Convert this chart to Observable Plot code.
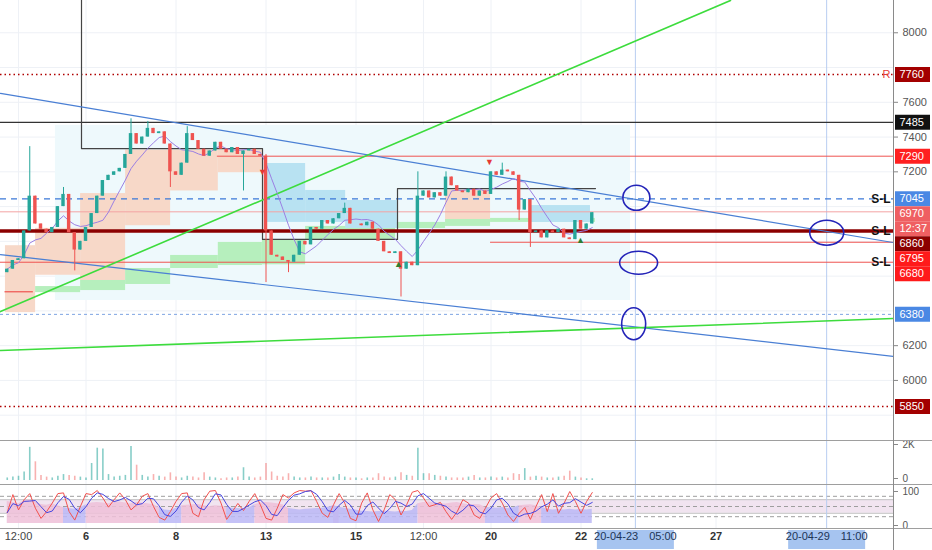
<!DOCTYPE html>
<html><head><meta charset="utf-8">
<script src="https://cdn.jsdelivr.net/npm/d3@7"></script>
<script src="https://cdn.jsdelivr.net/npm/@observablehq/plot@0.6"></script>
<style>
html,body{margin:0;padding:0;background:#fff;}
#chart{position:relative;width:932px;height:550px;overflow:hidden;font-family:"Liberation Sans",Arial,sans-serif;}
#chart svg{display:block;}
.sep{position:absolute;left:0;width:932px;height:1px;background:#9e9e9e;}
.vax{position:absolute;left:893px;top:0;width:1px;height:550px;background:#8a8a8a;}
</style></head><body><div id="chart"></div>
<script>
// ---------- DATA ----------
// time unit: trading days since 2020-04-02 00:00 (weekends / Good Friday removed)
const candleStartT = 0.25, candleStepT = 0.125;   // 3h candles
const firstOpen = 6620;
const closes = [
 6640,6690,6700,6860,7060,6900,6870,6850,6880,7000,
 7070,6850,6750,6800,6880,6960,7060,7150,7180,7200,
 7220,7300,7420,7360,7400,7450,7420,7430,7360,7200,
 7180,7250,7420,7380,7330,7290,7320,7370,7330,7310,
 7340,7300,7320,7330,7300,7290,6860,6720,6710,6690,
 6680,6720,6800,6780,6880,6870,6920,6900,6930,6960,
 6990,6900,6900,6890,6910,6870,6800,6740,6730,6740,
 6640,6680,6660,7060,7090,7050,7080,7060,7170,7120,
 7090,7080,7100,7060,7090,7070,7200,7180,7210,7200,
 7180,6980,7040,6850,6860,6820,6860,6850,6870,6820,
 6810,6920,6870,6900,6965];
const highWicks = [[4,7345],[10,7110],[22,7505],[25,7490],[32,7460],[46,7300],[60,7020],[73,7200],[78,7200],[88,7250]];
const lowWicks  = [[12,6630],[29,7110],[42,7090],[46,6563],[50,6620],[70,6480],[91,6920],[93,6765]];
const volumes = [
 150,200,250,500,1950,1100,300,200,150,250,
 350,300,250,200,150,1000,1900,1850,350,200,
 250,300,2000,900,300,200,350,250,200,450,
 200,150,250,200,150,450,200,150,100,150,
 150,200,750,200,150,200,1000,500,250,200,
 400,200,150,150,200,150,150,150,200,350,
 200,150,150,100,150,150,400,200,150,200,
 450,300,250,1900,400,400,300,250,200,150,
 150,150,200,300,150,150,200,150,200,150,
 400,350,700,200,250,200,150,150,200,250,
 550,200,150,100,100];
const stochK = [
 32,85,40,70,88,45,15,35,60,88,
 90,35,10,50,88,85,97,75,48,70,
 90,70,40,55,80,88,50,18,10,35,
 65,88,90,30,20,70,95,97,60,12,
 35,59,38,65,88,55,15,10,45,85,
 75,90,97,95,97,65,30,18,55,88,
 60,15,8,60,90,40,6,40,85,70,
 25,55,92,97,75,50,55,62,35,12,
 35,70,60,25,15,45,75,88,60,25,
 6,30,47,12,50,85,35,88,30,60,
 94,65,30,65,91];
const rsiArea = [
 65,62,58,66,70,64,56,54,58,52,
 47,44,42,46,55,60,62,60,58,62,
 63,60,58,62,60,58,55,48,40,38,
 45,52,54,55,56,52,50,52,51,48,
 45,44,42,46,55,60,62,60,58,55,
 44,42,40,42,43,44,45,48,52,48,
 45,42,40,36,35,34,35,36,35,34,
 36,35,38,58,62,63,60,58,57,60,
 62,58,55,56,55,48,46,45,47,44,
 46,52,54,55,52,48,42,40,41,40,
 42,40,41,40,42];

// zones [t1, t2, price1, price2]
const paleZone   = [[1.32,14.1,6460,7467]];
const peachZones = [[0.21,0.88,6390,6775],[0.88,1.88,6605,6875],[1.88,2.88,6575,7075],[2.88,3.88,6890,7325],[3.88,4.94,7090,7325],[4.94,5.92,7195,7325],[9.99,10.99,6910,7095]];
const greenZones = [[0.88,1.88,6505,6540],[1.88,2.88,6517,6575],[2.88,3.88,6552,6644],[3.88,4.94,6644,6719],[4.94,5.92,6661,6794],[5.92,6.88,6665,6805],[6.88,8.88,6805,6886],[8.88,9.99,6874,6909],[9.99,10.99,6886,6926],[10.99,13.32,6909,6932]];
const blueZones  = [[5.99,6.88,6909,7248],[6.88,7.77,6909,7093],[7.77,8.92,6874,7035],[11.88,13.21,6909,7006]];

// trend lines [t, price]
const channelUpper = [[0.1,7651],[19.944,6793]];
const channelLower = [[0.1,6724],[19.944,6138]];
const greenSteep   = [[0.1,6396],[16.322,8186]];
const greenShallow = [[0.1,6172],[19.944,6356]];
const stepT = [1.9,1.9,5.922,5.922,8.922,8.922,13.322];
const stepP = [8200,7334,7334,6811,6811,7104,7104];

// horizontal levels
const resistanceLevel = 7760, supportFloor = 5850, blackLevel = 7485;
const slLevels = [7045, 6860, 6680];
const redFull = [6680], currentPrice = 6970, boldLevel = 6860, blueDashed = 7045, blueThin = 6380;
const partialRed = [[7290, 4.92], [6795, 10.99]];
const shortRed = [[6510, 0.2, 0.83]];

const sellMarks = [[5.922,7200],[10.967,7255]];
const buyMarks  = [[8.944,6672],[12.989,6806]];
const circles = [[14.23,7051],[14.28,6677],[14.17,6326],[18.46,6850]];

const priceTicks = [5800,6000,6200,6400,6600,6800,7000,7200,7400,7600,7800,8000];
const axisLabelPrices = [7760,7485,7290,7045,6970,6860,6795,6680,6380,5850];
const countdownText = "12:37";

const xTickT = [0.5,2,4,6,8,9.5,11,13,16];
const xTickLabels = ["12:00","6","8","13","15","12:00","20","22","27"];
const cursorT = [14 + 5/24, 18 + 11/24];
const cursorLabels = ["20-04-23\u2002\u200205:00", "20-04-29\u2002\u200211:00"];

// ---------- VIEW ----------
const W = 932, MR = 39;
const T0 = 0.1, T1 = 19.944;
const P0 = 5654.4, P1 = 8185.7;
const UP = "#26a69a", DN = "#ef5350";
const font = "'Liberation Sans', Arial, sans-serif";
const style = {fontFamily: font, fontSize: "11px", color: "#555", background: "transparent", overflow: "visible"};

const hiMap = new Map(highWicks), loMap = new Map(lowWicks);
const candles = closes.map((c, i) => {
  const o = i === 0 ? firstOpen : closes[i - 1];
  let h = Math.max(o, c), l = Math.min(o, c);
  if (hiMap.has(i)) h = Math.max(h, hiMap.get(i));
  if (loMap.has(i)) l = Math.min(l, loMap.get(i));
  return {i, t: candleStartT + i * candleStepT, o, c, h, l, vol: volumes[i], k: stochK[i], rsi: rsiArea[i], up: c >= o};
});
const isPink = i => i >= 0 && i < candles.length && candles[i].rsi >= 50;

// stacked right-axis labels (push down on overlap, like the platform)
const yMirror = d3.scaleLinear([P0, P1], [440, 0]);
const labelRows = [];
axisLabelPrices.forEach(p => {
  labelRows.push({price: p, text: String(p)});
  if (p === currentPrice) labelRows.push({price: p, text: countdownText});
});
let prevPx = -Infinity;
labelRows.forEach(r => {
  let px = yMirror(r.price);
  if (px < prevPx + 15) px = prevPx + 15;
  prevPx = px;
  r.px = px;
  r.yy = yMirror.invert(px);
});
// price-scale ticks hidden behind a label box, as on the platform
const visibleTicks = priceTicks.filter(p => labelRows.every(r => Math.abs(yMirror(p) - r.px) > 13));
const labelFill = {"7760":"#a30000","5850":"#a30000","7485":"#111111","7290":"#ff2020","7045":"#4a88e4","6380":"#4a88e4","6970":"#ef5f62","12:37":"#ef5f62","6860":"#8b0000","6795":"#ff1a1a","6680":"#ff1a1a"};

const boxSymbol = (w, h) => ({draw(ctx) { ctx.rect(-w / 2, -h / 2, w, h); }});
const ellipseSymbol = (rx, ry) => ({draw(ctx) {
  const k = 0.5523;
  ctx.moveTo(rx, 0);
  ctx.bezierCurveTo(rx, ry * k, rx * k, ry, 0, ry);
  ctx.bezierCurveTo(-rx * k, ry, -rx, ry * k, -rx, 0);
  ctx.bezierCurveTo(-rx, -ry * k, -rx * k, -ry, 0, -ry);
  ctx.bezierCurveTo(rx * k, -ry, rx, -ry * k, rx, 0);
  ctx.closePath();
}});
const ellipseSizes = [[13.5,12.5],[19,11.5],[12,16],[17,12.5]];

const zoneRect = (data, fill) => Plot.rect(data, {x1: d => d[0], x2: d => d[1], y1: d => d[2], y2: d => d[3], fill});
const seg = (data, opts) => Plot.line(data, {x: d => d[0], y: d => d[1], clip: true, ...opts});

// ---------- MAIN PANE ----------
const main = Plot.plot({
  width: W, height: 440, marginTop: 0, marginBottom: 0, marginLeft: 0, marginRight: MR,
  x: {domain: [T0, T1], axis: null},
  y: {domain: [P0, P1], axis: null},
  color: {type: "identity"},
  style,
  marks: [
    Plot.ruleY(priceTicks, {stroke: "#eef1f6"}),
    Plot.ruleX(xTickT, {stroke: "#eef1f6"}),
    zoneRect(paleZone, "#eef9fc"),
    zoneRect(peachZones, "#f7d8c8"),
    zoneRect(greenZones, "#b6efbd"),
    zoneRect(blueZones, "#b8e2f2"),
    Plot.ruleX(cursorT, {stroke: "#b8cdf1"}),
    Plot.ruleY([resistanceLevel, supportFloor], {stroke: "#b00000", strokeWidth: 1.4, strokeDasharray: "1.5,3"}),
    Plot.ruleY([currentPrice], {stroke: "#f3a3a3", strokeWidth: 1}),
    Plot.ruleY(redFull, {stroke: "#ef5350", strokeWidth: 1}),
    Plot.ruleY(partialRed, {y: d => d[0], x1: d => d[1], x2: T1, stroke: "#ef5350", strokeWidth: 1}),
    Plot.ruleY(shortRed, {y: d => d[0], x1: d => d[1], x2: d => d[2], stroke: "#ef5350", strokeWidth: 1.2}),
    Plot.ruleY([blueDashed], {stroke: "#3b78d8", strokeWidth: 1.3, strokeDasharray: "6,5"}),
    Plot.ruleY([blueThin], {stroke: "#7ea4e2", strokeWidth: 1, strokeDasharray: "3,3"}),
    Plot.ruleY([blackLevel], {stroke: "#333", strokeWidth: 1.2}),
    Plot.line(stepT.map((t, i) => [t, stepP[i]]), {x: d => d[0], y: d => d[1], stroke: "#444", strokeWidth: 1.2, clip: true}),
    Plot.ruleY([boldLevel], {stroke: "#8b0000", strokeWidth: 3.5}),
    seg(channelUpper, {stroke: "#4a7fd4", strokeWidth: 1.2}),
    seg(channelLower, {stroke: "#4a7fd4", strokeWidth: 1.2}),
    seg(greenSteep, {stroke: "#3ddc3d", strokeWidth: 1.6}),
    seg(greenShallow, {stroke: "#3ddc3d", strokeWidth: 1.6}),
    Plot.line(candles, Plot.windowY({k: 7, anchor: "end"}, {x: "t", y: "c", stroke: "#9b7fe3", strokeWidth: 1})),
    Plot.ruleX(candles, {x: "t", y1: "l", y2: "h", stroke: d => d.up ? UP : DN, strokeWidth: 1}),
    Plot.rect(candles, {x1: d => d.t - 0.038, x2: d => d.t + 0.038, y1: "o", y2: "c", fill: d => d.up ? UP : DN}),
    Plot.text(sellMarks, {x: d => d[0], y: d => d[1], text: () => "\u25BC", fill: "#e53935", fontSize: 9}),
    Plot.text(buyMarks, {x: d => d[0], y: d => d[1], text: () => "\u25B2", fill: "#2e7d32", fontSize: 9}),
    ...circles.map((c, i) => Plot.dot([c], {x: d => d[0], y: d => d[1], r: 10, symbol: ellipseSymbol(...ellipseSizes[i]), stroke: "#2323b8", fill: "none", strokeWidth: 1.6})),
    Plot.text(slLevels, {y: d => d, text: () => "S-L", frameAnchor: "right", dx: -3, textAnchor: "end", fontWeight: "bold", fontSize: 12, fill: "#111"}),
    Plot.text([resistanceLevel], {y: d => d, text: () => "R", frameAnchor: "right", dx: -3, textAnchor: "end", fontSize: 11, fill: "#e53935"}),
    Plot.axisY(visibleTicks, {anchor: "right", tickSize: 4, tickPadding: 5, label: null, tickFormat: d => String(d), stroke: "#888", fill: "#555"}),
    Plot.dot(labelRows, {y: "yy", frameAnchor: "right", dx: 19, r: 8, symbol: boxSymbol(35, 15), fill: d => labelFill[d.text]}),
    Plot.text(labelRows, {y: "yy", text: "text", frameAnchor: "right", dx: 6, textAnchor: "start", fill: "white", fontSize: 11})
  ]
});

// ---------- VOLUME PANE ----------
const volPane = Plot.plot({
  width: W, height: 44, marginTop: 0, marginBottom: 0, marginLeft: 0, marginRight: MR,
  x: {domain: [T0, T1], axis: null},
  y: {domain: [-235, 2353], axis: null},
  color: {type: "identity"},
  style,
  marks: [
    Plot.ruleX(xTickT, {stroke: "#eef1f6"}),
    Plot.ruleX(cursorT, {stroke: "#b8cdf1"}),
    Plot.ruleX(candles, {x: "t", y1: 0, y2: "vol", stroke: d => d.up ? "rgba(38,166,154,0.55)" : "rgba(239,83,80,0.45)", strokeWidth: 1.6}),
    Plot.axisY([0, 2000], {anchor: "right", tickSize: 4, tickPadding: 5, label: null, tickFormat: d => d === 0 ? "0" : "2K", stroke: "#888", fill: "#555", fontSize: 10, dy: -2})
  ]
});

// ---------- STOCH RSI PANE ----------
const stPane = Plot.plot({
  width: W, height: 66, marginTop: 0, marginBottom: 22, marginLeft: 0, marginRight: MR,
  x: {domain: [T0, T1], axis: null},
  y: {domain: [-14.7, 114.7], axis: null},
  color: {type: "identity"},
  style,
  marks: [
    Plot.ruleX(xTickT, {stroke: "#eef1f6"}),
    Plot.rect([[30, 70]], {x1: T0, x2: T1, y1: d => d[0], y2: d => d[1], fill: "#f1e4f0"}),
    Plot.ruleY([30, 70], {stroke: "#c4c4c4"}),
    Plot.ruleY([20, 50, 80], {stroke: "#9e9e9e", strokeDasharray: "4,3"}),
    Plot.ruleX(cursorT, {stroke: "#b8cdf1"}),
    Plot.areaY(candles, {x: "t", y1: 0, y2: d => (isPink(d.i) || isPink(d.i - 1)) ? d.rsi : NaN, fill: "#efbfd8", fillOpacity: 0.85}),
    Plot.areaY(candles, {x: "t", y1: 0, y2: d => (!isPink(d.i) || !isPink(d.i - 1)) ? d.rsi : NaN, fill: "#bbb7f6", fillOpacity: 0.85}),
    Plot.line(candles, {x: "t", y: "k", stroke: "#f2514e", strokeWidth: 1}),
    Plot.line(candles, Plot.windowY({k: 3, anchor: "end"}, {x: "t", y: "k", stroke: "#4646e0", strokeWidth: 1})),
    Plot.axisY([0, 100], {anchor: "right", tickSize: 4, tickPadding: 5, label: null, tickFormat: d => String(d), stroke: "#888", fill: "#555", fontSize: 10, dy: 2}),
    Plot.text(xTickT.map((t, i) => ({t, label: xTickLabels[i]})).filter(d => !d.label.includes(":")),
      {x: "t", text: "label", frameAnchor: "bottom", dy: 11, fontWeight: "bold", fill: "#333", fontSize: 11}),
    Plot.text(xTickT.map((t, i) => ({t, label: xTickLabels[i]})).filter(d => d.label.includes(":")),
      {x: "t", text: "label", frameAnchor: "bottom", dy: 11, fill: "#444", fontSize: 11}),
    Plot.dot(cursorT.map((t, i) => ({t, label: cursorLabels[i]})), {x: "t", frameAnchor: "bottom", dy: 11, r: 10, symbol: boxSymbol(77, 19), fill: "#a6c4f0"}),
    Plot.text(cursorT.map((t, i) => ({t, label: cursorLabels[i]})), {x: "t", text: "label", frameAnchor: "bottom", dy: 11, fill: "#1d3557", fontSize: 11})
  ]
});

const root = document.getElementById("chart");
root.append(main, volPane, stPane);
[440, 484, 528].forEach(y => { const s = document.createElement("div"); s.className = "sep"; s.style.top = y + "px"; root.append(s); });
const v = document.createElement("div"); v.className = "vax"; root.append(v);
</script>
</body></html>
